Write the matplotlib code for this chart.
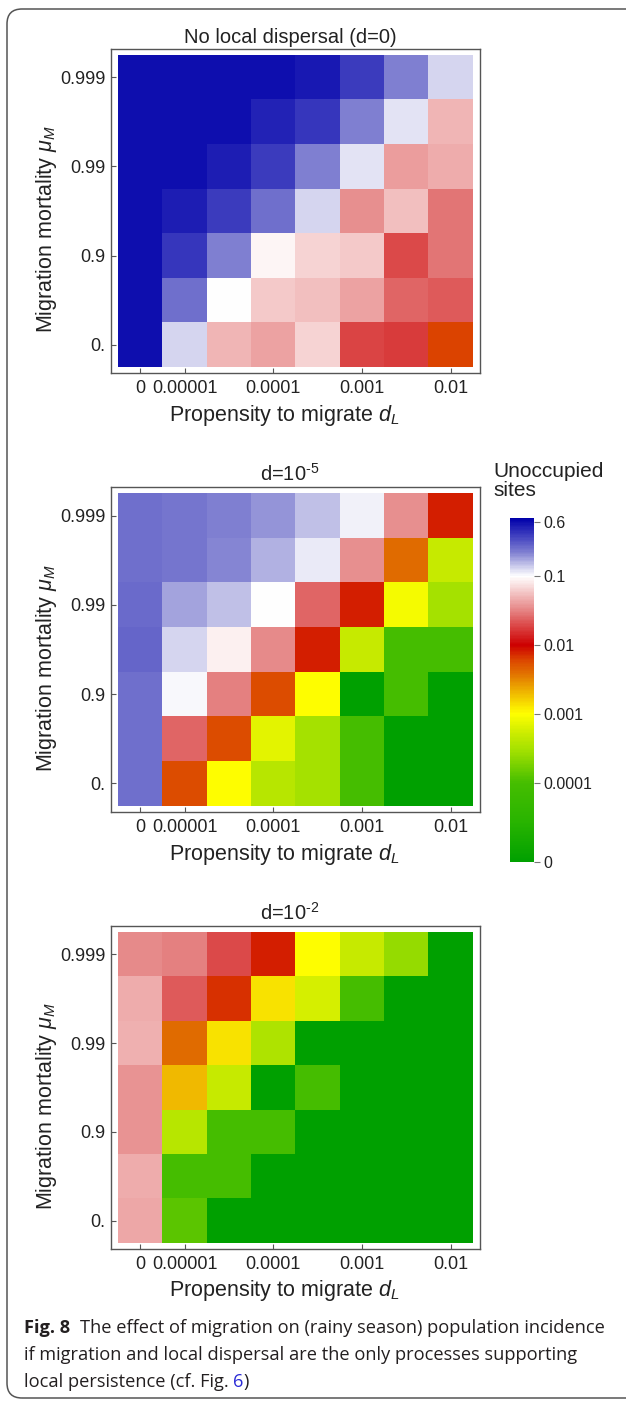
import numpy as np
import matplotlib
matplotlib.use("Agg")
import matplotlib.pyplot as plt
from matplotlib import colors, font_manager
from matplotlib.cm import ScalarMappable
from matplotlib.patches import FancyBboxPatch

# axes categories
dL_labels = ['0', '0.00001', '', '0.0001', '', '0.001', '', '0.01']
muM_labels = ['0.999', '', '0.99', '', '0.9', '', '0.']
titles = ['No local dispersal (d=0)', 'd=10$^{\u20105}$', 'd=10$^{\u20102}$']

# fraction of unoccupied sites, rows top (0.999) to bottom (0.)
unocc_d0 = [
    [0.60, 0.60, 0.60, 0.60, 0.55, 0.40, 0.22, 0.13],
    [0.60, 0.60, 0.58, 0.50, 0.42, 0.22, 0.12, 0.05],
    [0.60, 0.58, 0.52, 0.40, 0.22, 0.12, 0.04, 0.045],
    [0.60, 0.52, 0.40, 0.25, 0.13, 0.035, 0.055, 0.028],
    [0.60, 0.42, 0.22, 0.09, 0.065, 0.06, 0.02, 0.028],
    [0.60, 0.25, 0.10, 0.06, 0.055, 0.042, 0.025, 0.022],
    [0.60, 0.13, 0.05, 0.042, 0.065, 0.019, 0.017, 0.006],
]
unocc_d1e5 = [
    [0.25, 0.24, 0.22, 0.19, 0.15, 0.11, 0.035, 0.008],
    [0.25, 0.24, 0.21, 0.16, 0.115, 0.035, 0.004, 0.0005],
    [0.26, 0.18, 0.145, 0.10, 0.025, 0.008, 0.0009, 0.0003],
    [0.28, 0.13, 0.085, 0.033, 0.008, 0.0005, 0.0001, 0.0001],
    [0.25, 0.105, 0.03, 0.0055, 0.001, 0.0, 0.0001, 0.0],
    [0.25, 0.025, 0.0055, 0.0007, 0.0003, 0.0001, 0.0, 0.0],
    [0.25, 0.0055, 0.001, 0.0004, 0.0003, 0.0001, 0.0, 0.0],
]
unocc_d1e2 = [
    [0.033, 0.030, 0.020, 0.008, 0.001, 0.0005, 0.00025, 0.0],
    [0.045, 0.022, 0.007, 0.0013, 0.0006, 0.0001, 0.0, 0.0],
    [0.048, 0.004, 0.0013, 0.00035, 0.0, 0.0, 0.0, 0.0],
    [0.037, 0.002, 0.0005, 0.0, 0.0001, 0.0, 0.0, 0.0],
    [0.037, 0.0004, 0.0001, 0.0001, 0.0, 0.0, 0.0, 0.0],
    [0.045, 0.0001, 0.0001, 0.0, 0.0, 0.0, 0.0, 0.0],
    [0.043, 0.00013, 0.0, 0.0, 0.0, 0.0, 0.0, 0.0],
]

cbar_ticks = [0, 1e-4, 1e-3, 1e-2, 0.1, 0.6]
cbar_labels = ['0', '0.0001', '0.001', '0.01', '0.1', '0.6']

caption_bold = 'Fig. 8'
caption_l1 = 'The effect of migration on (rainy season) population incidence'
caption_l2 = 'if migration and local dispersal are the only processes supporting'
caption_l3 = 'local persistence (cf. Fig.'
caption_ref = '6'

W, H = 626, 1402
plt.rcParams['font.family'] = ['Liberation Sans', 'DejaVu Sans']
plt.rcParams['mathtext.fontset'] = 'custom'
plt.rcParams['mathtext.rm'] = 'Liberation Sans'
plt.rcParams['mathtext.it'] = 'Liberation Sans:italic'

# legend scale: linear 0..1e-4, then log decades
P4, DEC = 0.2297, 0.2006


def fwd(v):
    v = np.asarray(v, dtype=float)
    lg = np.log10(np.maximum(v, 1e-12))
    return np.where(v < 1e-4, v / 1e-4 * P4, P4 + (lg + 4) * DEC)


def inv(p):
    p = np.asarray(p, dtype=float)
    return np.where(p < P4, p / P4 * 1e-4, 10 ** ((p - P4) / DEC - 4))


VMAX = float(inv(1.0))
norm = colors.FuncNorm((fwd, inv), vmin=0, vmax=VMAX)

stop_vals = [0, 5e-5, 1e-4, 3e-4, 5e-4, 1e-3, 2e-3, 4e-3, 6e-3, 1e-2,
             2e-2, 3e-2, 5e-2, 0.1, 0.13, 0.22, 0.4, VMAX]
stop_cols = ['#00a000', '#28b400', '#46be00', '#a5e100', '#c8eb00', '#ffff00',
             '#f0b900', '#e16e00', '#dc4600', '#cd0000', '#dc4b4b', '#e47d7d',
             '#f0b4b4', '#ffffff', '#d7d7f0', '#8282d2', '#3c3cbe', '#0000aa']
pos = np.clip(fwd(stop_vals) / fwd(VMAX), 0, 1)
pos[0], pos[-1] = 0.0, 1.0
cmap = colors.LinearSegmentedColormap.from_list('unocc', list(zip(pos, stop_cols)))

fig = plt.figure(figsize=(W / 100, H / 100), dpi=100)

frame = FancyBboxPatch((0.07, 0.04), 6.6, 13.89,
                       boxstyle='round,pad=0,rounding_size=0.15',
                       transform=fig.dpi_scale_trans, fill=False,
                       ec='#555555', lw=1.1, clip_on=False)
fig.patches.append(frame)

panels = [unocc_d0, unocc_d1e5, unocc_d1e2]
frames_px = [(49, 373), (487, 812), (926, 1249)]
xt = [i for i, s in enumerate(dL_labels) if s]
yt = [i for i, s in enumerate(muM_labels) if s]

for data, title, (top, bot) in zip(panels, titles, frames_px):
    ax = fig.add_axes([111 / W, 1 - bot / H, 369 / W, (bot - top) / H])
    im = ax.imshow(np.array(data), cmap=cmap, norm=norm, aspect='auto',
                   interpolation='nearest')
    ax.set_xlim(-0.66, 7.66)
    ax.set_ylim(6.64, -0.64)
    ax.set_xticks(xt, [dL_labels[i] for i in xt])
    ax.set_yticks(yt, [muM_labels[i] for i in yt])
    ax.tick_params(direction='in', length=3.6, width=0.8, color='#555555',
                   labelsize=13, labelcolor='#222222')
    ax.tick_params(axis='x', pad=5)
    ax.tick_params(axis='y', pad=4)
    for sp in ax.spines.values():
        sp.set_color('#555555')
        sp.set_linewidth(1.0)
    ax.set_title(title, fontsize=14.5, pad=4.5, color='#222222', x=0.485)
    ax.set_xlabel('Propensity to migrate $d_L$', fontsize=15.5, color='#222222')
    ax.set_ylabel('Migration mortality $\\mu_M$', fontsize=15.5, color='#222222')
    ax.xaxis.label.set_va('center')
    ax.yaxis.label.set_va('center')
    ax.xaxis.set_label_coords(0.47, -0.13)
    ax.yaxis.set_label_coords(-0.176, 0.444)

cax = fig.add_axes([510 / W, 1 - 862 / H, 24 / W, 344 / H])
cb = fig.colorbar(ScalarMappable(norm=norm, cmap=cmap), cax=cax)
cb.outline.set_visible(False)
cb.set_ticks(cbar_ticks, labels=cbar_labels)
cb.ax.minorticks_off()
cb.ax.tick_params(length=4, width=0.8, color='#777777', labelsize=11.5,
                  labelcolor='#222222', pad=3)
fig.text(493 / W, 1 - 462 / H, 'Unoccupied\nsites', fontsize=15,
         ha='left', va='top', linespacing=1.0, color='#222222')

# caption
cap_font = ['Liberation Sans Narrow', 'Liberation Sans']
try:
    font_manager.findfont(font_manager.FontProperties(family='Liberation Sans Narrow'),
                          fallback_to_default=False)
except Exception:
    cap_font = ['Open Sans', 'DejaVu Sans']

renderer = fig.canvas.get_renderer()


def text_w(s, size, **kw):
    t = fig.text(0, 0, s, fontsize=size, family=cap_font, **kw)
    w = t.get_window_extent(renderer).width
    t.remove()
    return w


cap_size = 13.0
cap_size *= 552 / text_w(caption_l2, cap_size)
space = text_w('a a', cap_size) - text_w('aa', cap_size)
cap_col = '#231f20'
x0 = 24
base = [1333, 1360, 1387]

fig.text(x0 / W, 1 - base[0] / H, caption_bold, fontsize=cap_size, family=cap_font,
         weight='bold', va='baseline', color=cap_col)
xb = x0 + text_w(caption_bold, cap_size, weight='bold') + 2 * space
fig.text(xb / W, 1 - base[0] / H, caption_l1, fontsize=cap_size, family=cap_font,
         va='baseline', color=cap_col)
fig.text(x0 / W, 1 - base[1] / H, caption_l2, fontsize=cap_size, family=cap_font,
         va='baseline', color=cap_col)
fig.text(x0 / W, 1 - base[2] / H, caption_l3, fontsize=cap_size, family=cap_font,
         va='baseline', color=cap_col)
x6 = x0 + text_w(caption_l3, cap_size) + space
fig.text(x6 / W, 1 - base[2] / H, caption_ref, fontsize=cap_size, family=cap_font,
         va='baseline', color='#2b2bd6')
xr = x6 + text_w(caption_ref, cap_size)
fig.text(xr / W, 1 - base[2] / H, ')', fontsize=cap_size, family=cap_font,
         va='baseline', color=cap_col)

fig.savefig('out.png', dpi=100)
